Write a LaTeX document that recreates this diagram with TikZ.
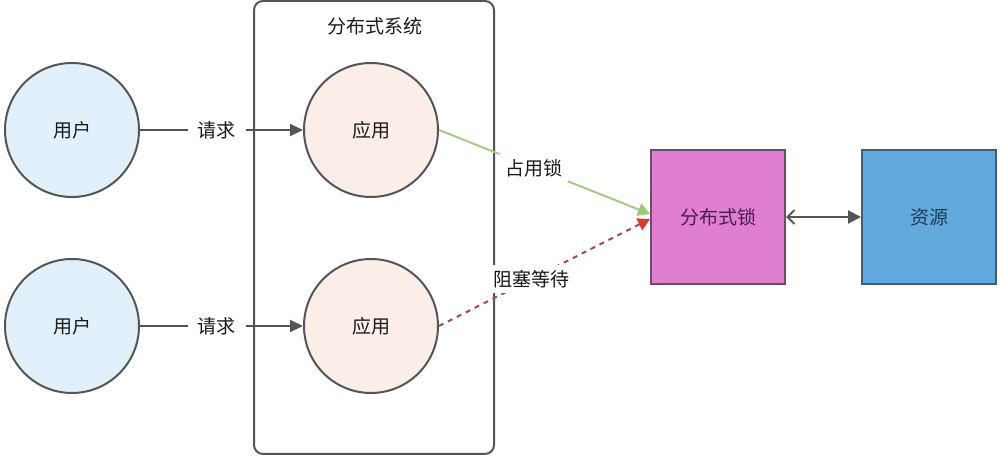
\documentclass[tikz,border=0pt]{standalone}
\usepackage{fontspec}
\setmainfont{Noto Sans CJK SC}
\usetikzlibrary{positioning}
\usetikzlibrary{arrows.meta}
\definecolor{userfill}{HTML}{E2F0FB}
\definecolor{appfill}{HTML}{FBEDE8}
\definecolor{edgegray}{HTML}{555555}
\definecolor{lockfill}{HTML}{E07FCF}
\definecolor{lockline}{HTML}{6A4D6C}
\definecolor{locktext}{HTML}{4A1A55}
\definecolor{resfill}{HTML}{62A9DD}
\definecolor{resline}{HTML}{3F5F78}
\definecolor{restext}{HTML}{1D3A55}
\definecolor{takegreen}{HTML}{A8C88A}
\definecolor{tipgreen}{HTML}{9CC878}
\definecolor{waitred}{HTML}{A24A50}
\definecolor{tipred}{HTML}{D04030}
\tikzset{>={Triangle[length=13pt,width=12pt]}}
\tikzset{txt/.style={font=\fontsize{19}{23}\selectfont, text=black!90}}
\tikzset{user/.style={txt,draw=edgegray,line width=2pt,circle,minimum size=134pt,inner sep=0pt,fill=userfill}}
\tikzset{app/.style={user,fill=appfill}}
\tikzset{blk/.style={txt,draw,line width=2pt,minimum size=134pt,inner sep=0pt}}
\tikzset{sysbox/.style={draw=edgegray,line width=2pt,rounded corners=9pt,minimum width=240pt,minimum height=453pt}}
\tikzset{lbl/.style={txt,fill=white,inner xsep=10pt,inner ysep=2pt}}

\begin{document}
\begin{tikzpicture}[x=1pt,y=1pt]
\useasboundingbox (0,0) rectangle (1004,463);

%%% The system box
\node[sysbox] (sys) at (374,235.5) {};
\node[txt] (systitle) at (375,437) {分布式系统};

\begin{scope}[on grid]

%%% users and apps
\node[user] (user1) at (72,333) {用户};
\node[user, below = 196pt of user1] (user2) {用户};
\node[app, right = 299pt of user1] (app1) {应用};
\node[app, right = 299pt of user2] (app2) {应用};

%%% lock and resource
\node[blk, draw=lockline, fill=lockfill, text=locktext] (lock) at (718,246) {分布式锁};
\node[blk, draw=resline, fill=resfill, text=restext, right = 211pt of lock] (res) {资源};

\end{scope}

\draw[->, draw=edgegray, line width=2pt, fill=edgegray] (user1) -- node[lbl, pos=0.47] {请求} (app1);
\draw[->, draw=edgegray, line width=2pt, fill=edgegray] (user2) -- node[lbl, pos=0.47] {请求} (app2);

\draw[-{Triangle[length=12pt,width=13pt,color=tipgreen]}, takegreen, line width=2pt]
 (app1.east) -- node[lbl, pos=0.45, inner xsep=6pt, inner ysep=5pt] {占用锁} ([yshift=3pt]lock.west);
\draw[-{Triangle[length=12pt,width=13pt,color=tipred]}, waitred, line width=2pt, dash pattern=on 5pt off 5pt]
 (app2.east) -- node[lbl, pos=0.44, inner xsep=5pt, inner ysep=5pt] {阻塞等待} ([yshift=-2pt]lock.west);

\draw[{Straight Barb[length=7pt,width=14pt]}-{Triangle[length=13pt,width=13pt]}, edgegray, line width=2pt]
 (lock) -- (res);

\end{tikzpicture}
\end{document}
